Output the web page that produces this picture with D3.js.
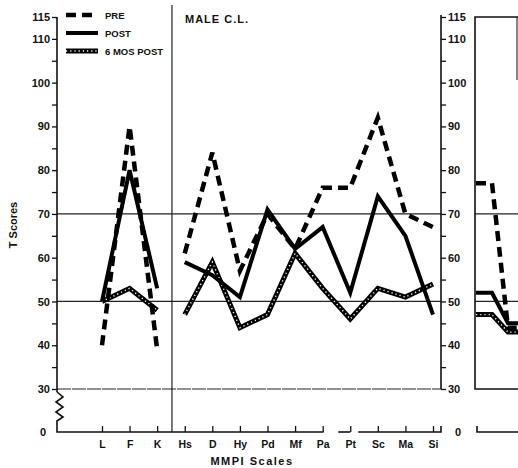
<!DOCTYPE html>
<html>
<head>
<meta charset="utf-8">
<script src="https://cdn.jsdelivr.net/npm/d3@7"></script>
<style>
  body { margin: 0; background: #fff; }
  text { font-family: "Liberation Sans", Arial, sans-serif; fill: #111; }
</style>
</head>
<body>
<div id="chart"></div>
<script>
// MMPI profile, male C.L.
var scales = ["L", "F", "K", "Hs", "D", "Hy", "Pd", "Mf", "Pa", "Pt", "Sc", "Ma", "Si"];
var validity = ["L", "F", "K"];
var clinical = ["Hs", "D", "Hy", "Pd", "Mf", "Pa", "Pt", "Sc", "Ma", "Si"];

var pre     = [40, 90, 39, 61, 84, 57, 70, 62, 76, 76, 92, 70, 67];
var post    = [50, 80, 53, 59, 56, 51, 71, 62, 67, 52, 74, 65, 47];
var sixMos  = [50, 53, 48, 47, 59, 44, 47, 61, 53, 46, 53, 51, 54];

// the next (cropped) panel at the right edge
var nextScales = ["", "L", "F", "K"];
var nextPre    = [77, 77, 44, 44];
var nextPost   = [52, 52, 45, 45];
var nextSix    = [47, 47, 43, 43];

var yTicks = [30, 35, 40, 45, 50, 55, 60, 65, 70, 75, 80, 85, 90, 95, 100, 105, 110, 115];
var yLabels = [30, 40, 50, 60, 70, 80, 90, 100, 110, 115];
var refLines = [50, 70];

var W = 518, H = 468;
var svg = d3.select("#chart").append("svg")
    .attr("width", W)
    .attr("height", H);

var axisX = 57, rightAxisX = 441, nextAxisX = 475, baseY = 432;

var x = d3.scalePoint().domain(scales).range([102, 433]);
var y = d3.scaleLinear().domain([30, 115]).range([389, 17]);
var xNext = d3.scalePoint().domain(nextScales).range([476, 524]);

// reference lines
refLines.forEach(function(v) {
  svg.append("line").attr("x1", axisX).attr("x2", rightAxisX)
    .attr("y1", y(v)).attr("y2", y(v)).attr("stroke", "#222").attr("stroke-width", 1.2);
  svg.append("line").attr("x1", nextAxisX).attr("x2", W)
    .attr("y1", y(v)).attr("y2", y(v)).attr("stroke", "#222").attr("stroke-width", 1.2);
});
svg.append("line").attr("x1", axisX).attr("x2", rightAxisX)
  .attr("y1", y(30)).attr("y2", y(30)).attr("stroke", "#222").attr("stroke-width", 1)
  .attr("stroke-dasharray", "14,1");

// divider between validity and clinical scales
var divX = (x("K") + x("Hs")) / 2 + 1;
svg.append("line").attr("x1", divX).attr("x2", divX).attr("y1", 5).attr("y2", baseY)
  .attr("stroke", "#222").attr("stroke-width", 1.2);

// left axis
var leftAxis = d3.axisLeft(y).tickValues(yTicks).tickSize(5).tickPadding(2)
  .tickFormat(function(d) { return yLabels.indexOf(d) >= 0 ? d : ""; });
var gl = svg.append("g").attr("transform", "translate(" + axisX + ",0)").call(leftAxis);
gl.select(".domain").remove();
gl.selectAll("line").attr("stroke", "#111").attr("stroke-width", 1.3);
gl.selectAll("text").style("font-size", "11px").style("font-weight", "bold").attr("fill", "#111");
svg.append("line").attr("x1", axisX).attr("x2", axisX).attr("y1", y(115)).attr("y2", y(30) + 3)
  .attr("stroke", "#111").attr("stroke-width", 1.6);
// broken-axis zigzag down to zero
svg.append("path")
  .attr("d", "M" + axisX + "," + (y(30) + 3) + " l6,5 l-7,5 l7,5 l-7,5 l7,5 l-6,4 L" + axisX + "," + baseY + " L" + (x("Pa") + 1) + "," + baseY)
  .attr("fill", "none").attr("stroke", "#111").attr("stroke-width", 1.6);
svg.append("text").attr("x", 43).attr("y", baseY + 4).attr("text-anchor", "middle")
  .style("font-size", "11px").style("font-weight", "bold").text("0");

// right axis
var rightAxis = d3.axisRight(y).tickValues(yTicks).tickSize(5).tickPadding(2)
  .tickFormat(function(d) { return yLabels.indexOf(d) >= 0 ? d : ""; });
var gr = svg.append("g").attr("transform", "translate(" + rightAxisX + ",0)").call(rightAxis);
gr.select(".domain").remove();
gr.selectAll("line").attr("stroke", "#111").attr("stroke-width", 1.3);
gr.selectAll("text").style("font-size", "11px").style("font-weight", "bold").attr("fill", "#111");
svg.append("line").attr("x1", rightAxisX).attr("x2", rightAxisX).attr("y1", y(115) - 2).attr("y2", y(30))
  .attr("stroke", "#111").attr("stroke-width", 1.6);
svg.append("text").attr("x", 458).attr("y", baseY + 4).attr("text-anchor", "middle")
  .style("font-size", "11px").style("font-weight", "bold").text("0");

// x axis (ticks point up, baseline broken round Pt)
var xAxis = d3.axisBottom(x).tickSizeInner(-6).tickSizeOuter(0).tickPadding(9);
var gx = svg.append("g").attr("transform", "translate(0," + baseY + ")").call(xAxis);
gx.select(".domain").remove();
gx.selectAll("line").attr("stroke", "#111").attr("stroke-width", 1.3);
gx.selectAll("text").style("font-size", "10.5px").style("font-weight", "bold").attr("fill", "#111");
svg.append("line").attr("x1", x("Pt") - 12).attr("x2", x("Pt")).attr("y1", baseY).attr("y2", baseY)
  .attr("stroke", "#111").attr("stroke-width", 1.6);
svg.append("path")
  .attr("d", "M" + (x("Pt") + 8) + "," + baseY + " L" + rightAxisX + "," + baseY + " l0,-6")
  .attr("fill", "none").attr("stroke", "#111").attr("stroke-width", 1.6);

// next panel frame
svg.append("path")
  .attr("d", "M" + W + "," + y(115) + " L" + nextAxisX + "," + y(115) + " L" + nextAxisX + "," + y(30) + " L" + W + "," + y(30))
  .attr("fill", "none").attr("stroke", "#111").attr("stroke-width", 1.6);
svg.append("line").attr("x1", 517).attr("x2", 517).attr("y1", y(115)).attr("y2", 80)
  .attr("stroke", "#111").attr("stroke-width", 1);
svg.append("path")
  .attr("d", "M" + (nextAxisX + 2) + "," + (baseY - 6) + " l0,6 L" + W + "," + baseY)
  .attr("fill", "none").attr("stroke", "#111").attr("stroke-width", 1.6);

// series drawing
function drawSeries(target, pts, style) {
  var line = d3.line().x(function(d) { return d[0]; }).y(function(d) { return d[1]; });
  if (style === "pre") {
    target.append("path").attr("d", line(pts)).attr("fill", "none").attr("stroke", "#000")
      .attr("stroke-width", 4.5).attr("stroke-dasharray", "10,6");
  } else if (style === "post") {
    target.append("path").attr("d", line(pts)).attr("fill", "none").attr("stroke", "#000")
      .attr("stroke-width", 4).attr("stroke-linejoin", "miter");
  } else {
    target.append("path").attr("d", line(pts)).attr("fill", "none").attr("stroke", "#000")
      .attr("stroke-width", 5);
    target.append("path").attr("d", line(pts)).attr("fill", "none").attr("stroke", "#fff")
      .attr("stroke-width", 1.4).attr("stroke-dasharray", "1.2,3");
  }
}

function pts(cats, vals) {
  return cats.map(function(c) { return [x(c), y(vals[scales.indexOf(c)])]; });
}

svg.append("clipPath").attr("id", "nextClip").append("rect")
  .attr("x", nextAxisX).attr("y", 0).attr("width", W - nextAxisX).attr("height", H);

[["six", sixMos], ["post", post], ["pre", pre]].forEach(function(s) {
  drawSeries(svg, pts(validity, s[1]), s[0]);
  drawSeries(svg, pts(clinical, s[1]), s[0]);
});

var nextG = svg.append("g").attr("clip-path", "url(#nextClip)");
[["six", nextSix], ["post", nextPost], ["pre", nextPre]].forEach(function(s) {
  drawSeries(nextG, nextScales.map(function(c, i) { return [xNext(c), y(s[1][i])]; }), s[0]);
});

// legend
var legend = [["pre", "PRE"], ["post", "POST"], ["six", "6 MOS POST"]];
legend.forEach(function(l, i) {
  var ly = 15 + i * 18;
  drawSeries(svg, [[66, ly], [98, ly]], l[0]);
  svg.append("text").attr("x", 105).attr("y", ly + 4)
    .style("font-size", "9.5px").style("font-weight", "bold").text(l[1]);
});

svg.append("text").attr("x", 185).attr("y", 23)
  .style("font-size", "11px").style("font-weight", "bold").style("letter-spacing", "1px").text("MALE C.L.");

svg.append("text").attr("transform", "translate(17,225) rotate(-90)").attr("text-anchor", "middle")
  .style("font-size", "11px").style("font-weight", "bold").text("T Scores");

svg.append("text").attr("x", 252).attr("y", 465).attr("text-anchor", "middle")
  .style("font-size", "11px").style("font-weight", "bold").style("letter-spacing", "1.5px").text("MMPI  Scales");
</script>
</body>
</html>
